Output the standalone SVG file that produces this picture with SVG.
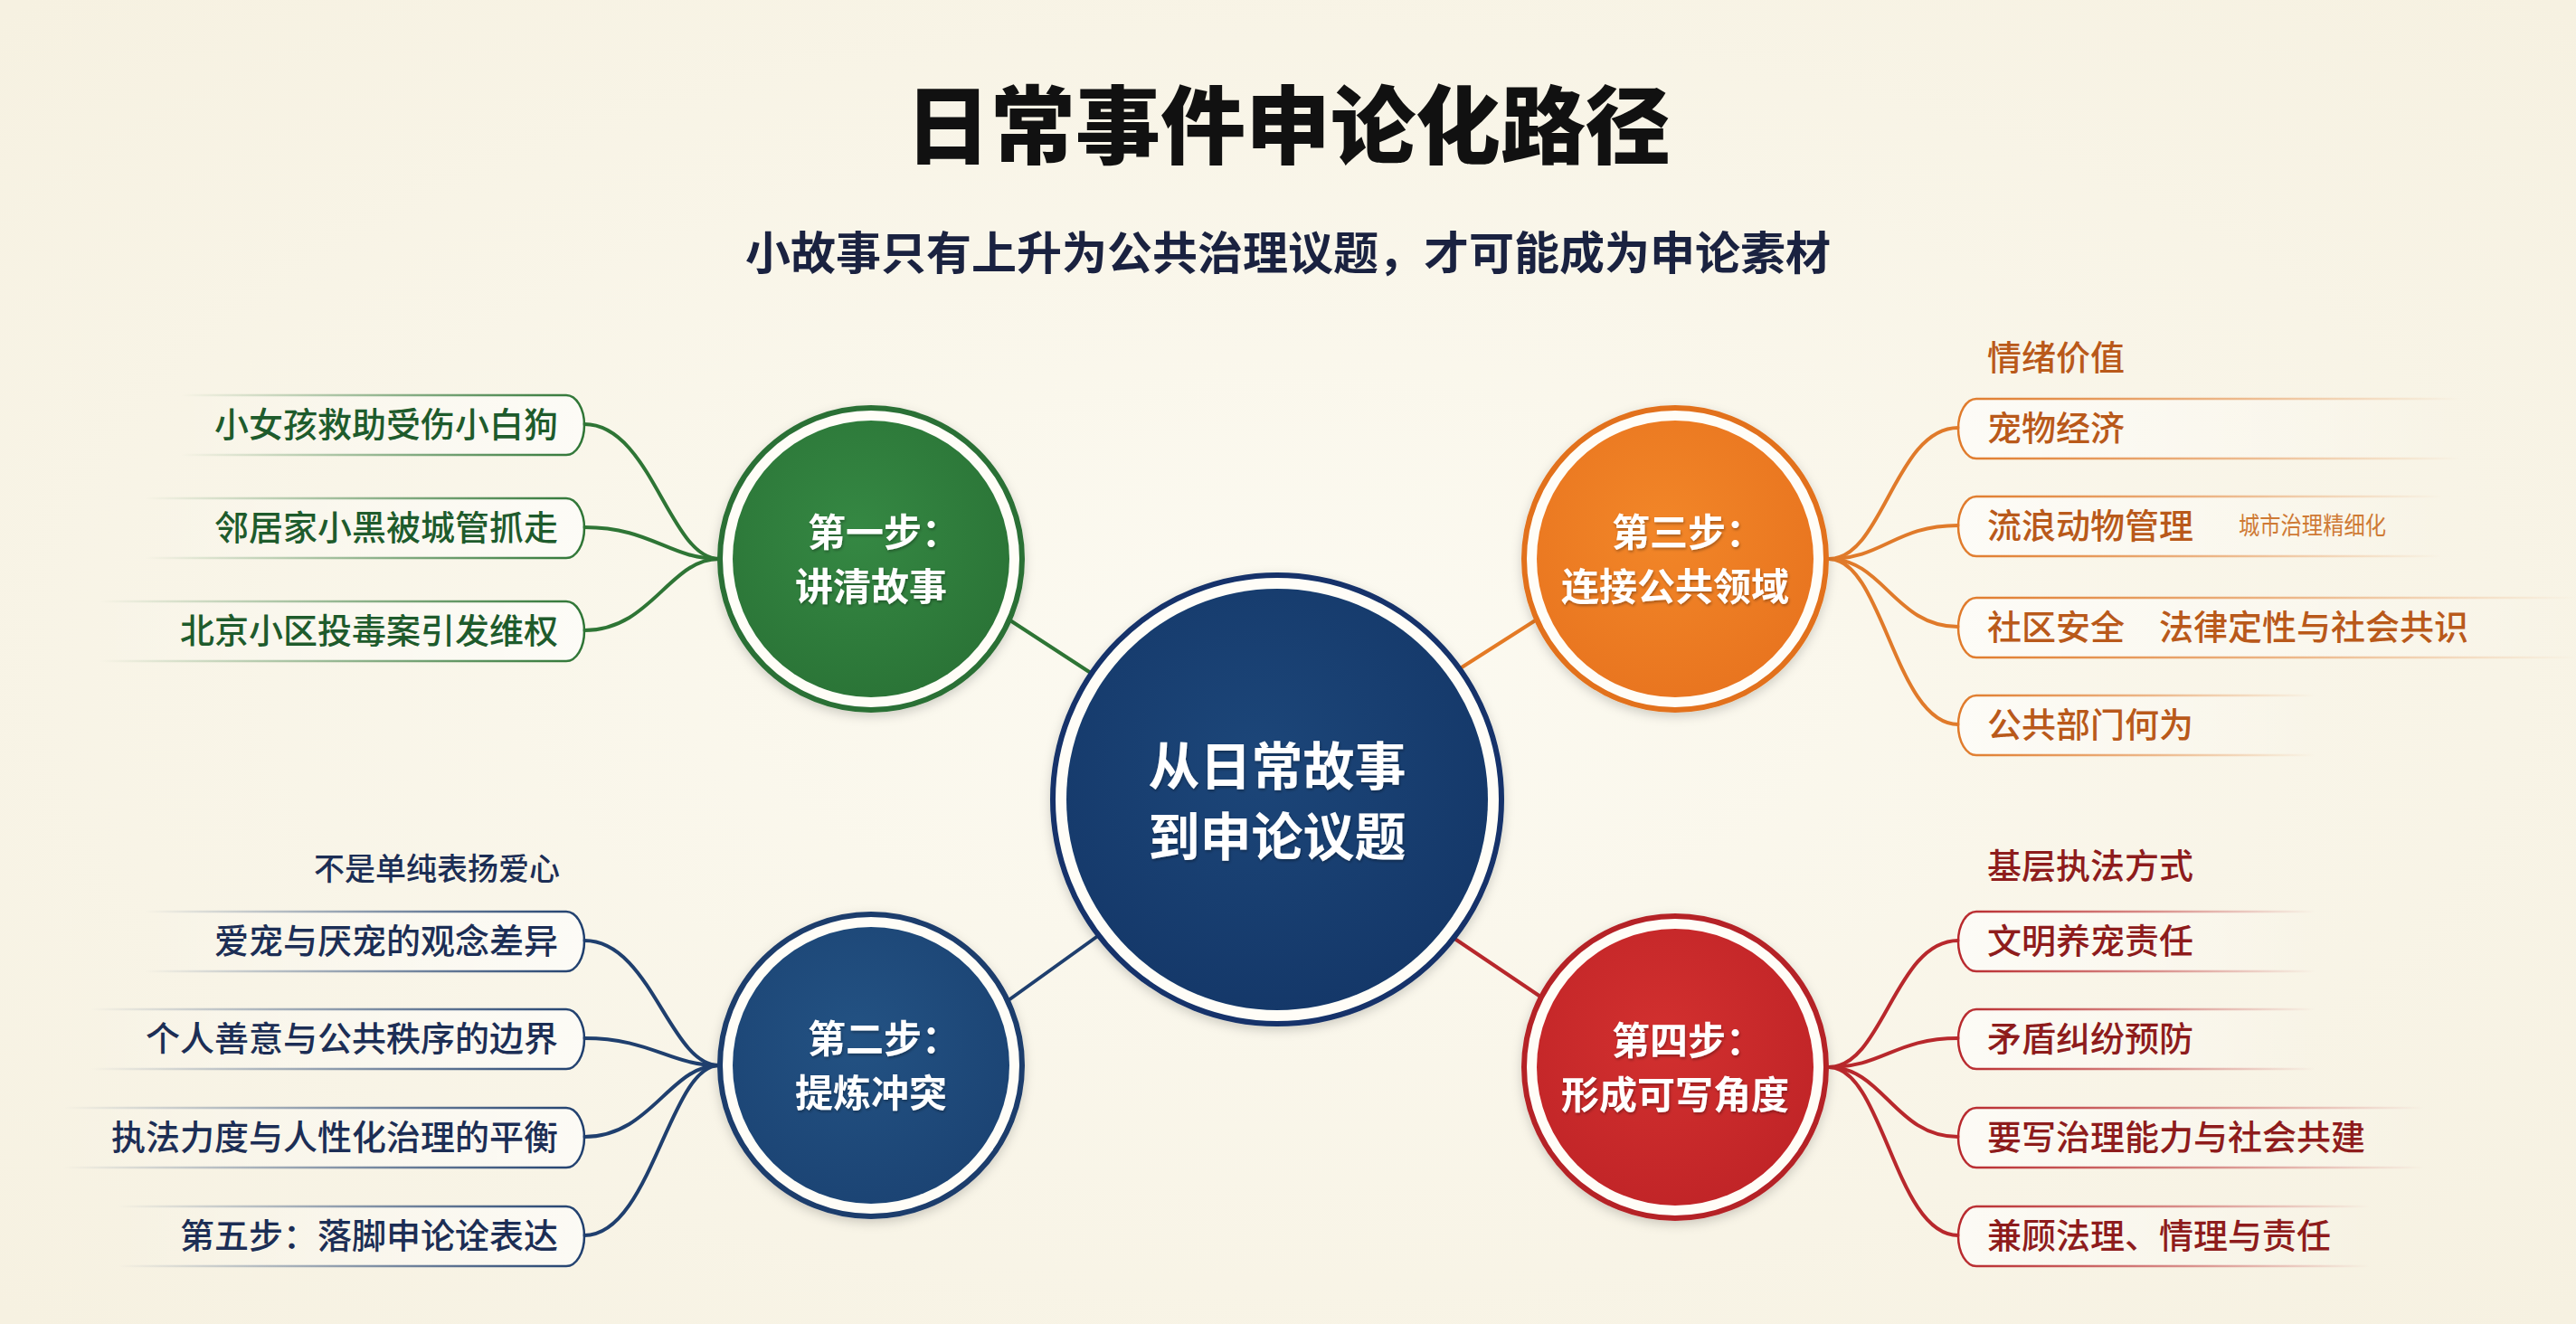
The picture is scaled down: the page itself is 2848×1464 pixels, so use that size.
<svg xmlns="http://www.w3.org/2000/svg" width="2848" height="1464" viewBox="0 0 2848 1464">
<defs>
<radialGradient id="bg" cx="50%" cy="50%" r="70%">
<stop offset="0" stop-color="#fcfaf1"/>
<stop offset="1" stop-color="#f6f1e1"/>
</radialGradient>
<radialGradient id="fNavy" cx="45%" cy="40%" r="65%"><stop offset="0" stop-color="#1c4679"/><stop offset="1" stop-color="#143768"/></radialGradient>
<radialGradient id="fGreen" cx="45%" cy="40%" r="65%"><stop offset="0" stop-color="#358843"/><stop offset="1" stop-color="#2a7336"/></radialGradient>
<radialGradient id="fBlue" cx="45%" cy="40%" r="65%"><stop offset="0" stop-color="#235283"/><stop offset="1" stop-color="#1b4373"/></radialGradient>
<radialGradient id="fOrange" cx="45%" cy="40%" r="65%"><stop offset="0" stop-color="#f28628"/><stop offset="1" stop-color="#e8741f"/></radialGradient>
<radialGradient id="fRed" cx="45%" cy="40%" r="65%"><stop offset="0" stop-color="#d2302f"/><stop offset="1" stop-color="#c02427"/></radialGradient>
<linearGradient id="pGreen" x1="0" y1="0" x2="1" y2="0"><stop offset="0" stop-color="#2e7535" stop-opacity="0"/><stop offset="0.45" stop-color="#2e7535" stop-opacity="0.45"/><stop offset="1" stop-color="#2e7535" stop-opacity="1"/></linearGradient>
<linearGradient id="pBlue" x1="0" y1="0" x2="1" y2="0"><stop offset="0" stop-color="#1f3f6e" stop-opacity="0"/><stop offset="0.45" stop-color="#1f3f6e" stop-opacity="0.45"/><stop offset="1" stop-color="#1f3f6e" stop-opacity="1"/></linearGradient>
<linearGradient id="pOrange" x1="1" y1="0" x2="0" y2="0"><stop offset="0" stop-color="#e07a2a" stop-opacity="0"/><stop offset="0.45" stop-color="#e07a2a" stop-opacity="0.5"/><stop offset="1" stop-color="#e07a2a" stop-opacity="1"/></linearGradient>
<linearGradient id="pRed" x1="1" y1="0" x2="0" y2="0"><stop offset="0" stop-color="#b8282c" stop-opacity="0"/><stop offset="0.45" stop-color="#b8282c" stop-opacity="0.5"/><stop offset="1" stop-color="#b8282c" stop-opacity="1"/></linearGradient>
<linearGradient id="pfL" x1="0" y1="0" x2="1" y2="0"><stop offset="0" stop-color="#ffffff" stop-opacity="0"/><stop offset="1" stop-color="#ffffff" stop-opacity="0.6"/></linearGradient>
<linearGradient id="pfR" x1="1" y1="0" x2="0" y2="0"><stop offset="0" stop-color="#ffffff" stop-opacity="0"/><stop offset="1" stop-color="#ffffff" stop-opacity="0.6"/></linearGradient>
<filter id="sh" x="-20%" y="-20%" width="140%" height="140%"><feDropShadow dx="0" dy="4" stdDeviation="6" flood-color="#000" flood-opacity="0.18"/></filter>
<filter id="tsh" x="-10%" y="-30%" width="120%" height="160%"><feDropShadow dx="1" dy="2" stdDeviation="1.5" flood-color="#000" flood-opacity="0.3"/></filter>
</defs>
<style>
text{font-family:"Noto Sans CJK SC","Noto Sans",sans-serif;}
.title{font-size:94px;font-weight:900;fill:#111111;}
.sub{font-size:50px;font-weight:700;fill:#1a2240;}
.lbl{font-size:38px;font-weight:500;}
.lg{fill:#1e5b2c;} .lb{fill:#1c2e55;} .lo{fill:#b9591a;} .lr{fill:#8e1c1c;}
.step{font-size:42px;font-weight:700;fill:#ffffff;text-anchor:middle;}
.ctr{font-size:57px;font-weight:700;fill:#ffffff;text-anchor:middle;}
.note{font-size:34px;font-weight:500;}
.end{text-anchor:end;}
.pill{fill:none;stroke-width:2.5;}
.cn{fill:none;stroke-width:4;stroke-linecap:round;}
.gap{fill:#fffdf7;stroke-width:6;}
</style>
<rect x="0" y="0" width="2848" height="1464" fill="url(#bg)"/>

<g id="title">
<text class="title" x="1424" y="174" text-anchor="middle">日常事件申论化路径</text>
<text class="sub" x="1424" y="298" text-anchor="middle">小故事只有上升为公共治理议题，才可能成为申论素材</text>
</g>

<g id="connectors">
<line class="cn" x1="1100" y1="675" x2="1215" y2="750" stroke="#2e7535"/>
<line class="cn" x1="1605" y1="745" x2="1710" y2="678" stroke="#e47a25"/>
<line class="cn" x1="1222" y1="1029" x2="1108" y2="1111" stroke="#1f3f6e"/>
<line class="cn" x1="1598" y1="1031" x2="1712" y2="1108" stroke="#b8282c"/>
<g stroke="#2e7535">
<path class="cn" d="M795 618 C740 618 720 469 646 469"/>
<path class="cn" d="M795 618 C740 618 720 583 646 583"/>
<path class="cn" d="M795 618 C740 618 720 697 646 697"/>
</g>
<g stroke="#1f3f6e">
<path class="cn" d="M795 1178 C740 1178 720 1040 646 1040"/>
<path class="cn" d="M795 1178 C740 1178 720 1148 646 1148"/>
<path class="cn" d="M795 1178 C740 1178 720 1257 646 1257"/>
<path class="cn" d="M795 1178 C740 1178 720 1366 646 1366"/>
</g>
<g stroke="#e07a2a">
<path class="cn" d="M2022 618 C2082 618 2095 473 2165 473"/>
<path class="cn" d="M2022 618 C2082 618 2095 581 2165 581"/>
<path class="cn" d="M2022 618 C2082 618 2095 693 2165 693"/>
<path class="cn" d="M2022 618 C2082 618 2095 801 2165 801"/>
</g>
<g stroke="#b8282c">
<path class="cn" d="M2022 1180 C2082 1180 2095 1040 2165 1040"/>
<path class="cn" d="M2022 1180 C2082 1180 2095 1148 2165 1148"/>
<path class="cn" d="M2022 1180 C2082 1180 2095 1257 2165 1257"/>
<path class="cn" d="M2022 1180 C2082 1180 2095 1366 2165 1366"/>
</g>
</g>

<g id="center">
<circle cx="1412" cy="884" r="248" class="gap" stroke="#13336a" filter="url(#sh)"/>
<circle cx="1412" cy="884" r="233" fill="url(#fNavy)"/>
<text class="ctr" x="1412" y="868" filter="url(#tsh)">从日常故事</text>
<text class="ctr" x="1412" y="946" filter="url(#tsh)">到申论议题</text>
</g>

<g id="step1">
<circle cx="963" cy="618" r="167" class="gap" stroke="#2b7036" filter="url(#sh)"/>
<circle cx="963" cy="618" r="153" fill="url(#fGreen)"/>
<text class="step" x="977" y="604" filter="url(#tsh)">第一步：</text>
<text class="step" x="963" y="664" filter="url(#tsh)">讲清故事</text>
</g>

<g id="step2">
<circle cx="963" cy="1178" r="167" class="gap" stroke="#1c3c6c" filter="url(#sh)"/>
<circle cx="963" cy="1178" r="153" fill="url(#fBlue)"/>
<text class="step" x="977" y="1164" filter="url(#tsh)">第二步：</text>
<text class="step" x="963" y="1224" filter="url(#tsh)">提炼冲突</text>
</g>

<g id="step3">
<circle cx="1852" cy="618" r="167" class="gap" stroke="#e2711c" filter="url(#sh)"/>
<circle cx="1852" cy="618" r="153" fill="url(#fOrange)"/>
<text class="step" x="1866" y="604" filter="url(#tsh)">第三步：</text>
<text class="step" x="1852" y="664" filter="url(#tsh)">连接公共领域</text>
</g>

<g id="step4">
<circle cx="1852" cy="1180" r="167" class="gap" stroke="#b52228" filter="url(#sh)"/>
<circle cx="1852" cy="1180" r="153" fill="url(#fRed)"/>
<text class="step" x="1866" y="1166" filter="url(#tsh)">第四步：</text>
<text class="step" x="1852" y="1226" filter="url(#tsh)">形成可写角度</text>
</g>

<g id="s1-items">
<g id="s1a"><path d="M200 437 H626 A20 33 0 0 1 626 503 H200 Z" fill="url(#pfL)"/><path class="pill" d="M200 437 H626 A20 33 0 0 1 626 503 H200" stroke="url(#pGreen)"/><text class="lbl lg end" x="617" y="483">小女孩救助受伤小白狗</text></g>
<g id="s1b"><path d="M160 551 H626 A20 33 0 0 1 626 617 H160 Z" fill="url(#pfL)"/><path class="pill" d="M160 551 H626 A20 33 0 0 1 626 617 H160" stroke="url(#pGreen)"/><text class="lbl lg end" x="617" y="597">邻居家小黑被城管抓走</text></g>
<g id="s1c"><path d="M110 665 H626 A20 33 0 0 1 626 731 H110 Z" fill="url(#pfL)"/><path class="pill" d="M110 665 H626 A20 33 0 0 1 626 731 H110" stroke="url(#pGreen)"/><text class="lbl lg end" x="617" y="711">北京小区投毒案引发维权</text></g>
</g>

<g id="s2-items">
<text class="note lb end" x="619" y="973">不是单纯表扬爱心</text>
<g id="s2a"><path d="M160 1008 H626 A20 33 0 0 1 626 1074 H160 Z" fill="url(#pfL)"/><path class="pill" d="M160 1008 H626 A20 33 0 0 1 626 1074 H160" stroke="url(#pBlue)"/><text class="lbl lb end" x="617" y="1054">爱宠与厌宠的观念差异</text></g>
<g id="s2b"><path d="M100 1116 H626 A20 33 0 0 1 626 1182 H100 Z" fill="url(#pfL)"/><path class="pill" d="M100 1116 H626 A20 33 0 0 1 626 1182 H100" stroke="url(#pBlue)"/><text class="lbl lb end" x="617" y="1162">个人善意与公共秩序的边界</text></g>
<g id="s2c"><path d="M70 1225 H626 A20 33 0 0 1 626 1291 H70 Z" fill="url(#pfL)"/><path class="pill" d="M70 1225 H626 A20 33 0 0 1 626 1291 H70" stroke="url(#pBlue)"/><text class="lbl lb end" x="617" y="1271">执法力度与人性化治理的平衡</text></g>
<g id="s2d"><path d="M130 1334 H626 A20 33 0 0 1 626 1400 H130 Z" fill="url(#pfL)"/><path class="pill" d="M130 1334 H626 A20 33 0 0 1 626 1400 H130" stroke="url(#pBlue)"/><text class="lbl lb end" x="617" y="1380">第五步：落脚申论诠表达</text></g>
</g>

<g id="s3-items">
<text class="lbl lo" x="2197" y="409">情绪价值</text>
<g id="s3a"><path d="M2720 441 H2185 A20 33 0 0 0 2185 507 H2720 Z" fill="url(#pfR)"/><path class="pill" d="M2720 441 H2185 A20 33 0 0 0 2185 507 H2720" stroke="url(#pOrange)"/><text class="lbl lo" x="2197" y="487">宠物经济</text></g>
<g id="s3b"><path d="M2700 549 H2185 A20 33 0 0 0 2185 615 H2700 Z" fill="url(#pfR)"/><path class="pill" d="M2700 549 H2185 A20 33 0 0 0 2185 615 H2700" stroke="url(#pOrange)"/><text class="lbl lo" x="2197" y="595">流浪动物管理</text><text x="2475" y="591" font-size="27" fill="#cf7a35" textLength="163" lengthAdjust="spacingAndGlyphs">城市治理精细化</text></g>
<g id="s3c"><path d="M2848 661 H2185 A20 33 0 0 0 2185 727 H2848 Z" fill="url(#pfR)"/><path class="pill" d="M2848 661 H2185 A20 33 0 0 0 2185 727 H2848" stroke="url(#pOrange)"/><text class="lbl lo" x="2197" y="707">社区安全　法律定性与社会共识</text></g>
<g id="s3d"><path d="M2560 769 H2185 A20 33 0 0 0 2185 835 H2560 Z" fill="url(#pfR)"/><path class="pill" d="M2560 769 H2185 A20 33 0 0 0 2185 835 H2560" stroke="url(#pOrange)"/><text class="lbl lo" x="2197" y="815">公共部门何为</text></g>
</g>

<g id="s4-items">
<text class="lbl lr" x="2197" y="971">基层执法方式</text>
<g id="s4a"><path d="M2560 1008 H2185 A20 33 0 0 0 2185 1074 H2560 Z" fill="url(#pfR)"/><path class="pill" d="M2560 1008 H2185 A20 33 0 0 0 2185 1074 H2560" stroke="url(#pRed)"/><text class="lbl lr" x="2197" y="1054">文明养宠责任</text></g>
<g id="s4b"><path d="M2560 1116 H2185 A20 33 0 0 0 2185 1182 H2560 Z" fill="url(#pfR)"/><path class="pill" d="M2560 1116 H2185 A20 33 0 0 0 2185 1182 H2560" stroke="url(#pRed)"/><text class="lbl lr" x="2197" y="1162">矛盾纠纷预防</text></g>
<g id="s4c"><path d="M2680 1225 H2185 A20 33 0 0 0 2185 1291 H2680 Z" fill="url(#pfR)"/><path class="pill" d="M2680 1225 H2185 A20 33 0 0 0 2185 1291 H2680" stroke="url(#pRed)"/><text class="lbl lr" x="2197" y="1271">要写治理能力与社会共建</text></g>
<g id="s4d"><path d="M2620 1334 H2185 A20 33 0 0 0 2185 1400 H2620 Z" fill="url(#pfR)"/><path class="pill" d="M2620 1334 H2185 A20 33 0 0 0 2185 1400 H2620" stroke="url(#pRed)"/><text class="lbl lr" x="2197" y="1380">兼顾法理、情理与责任</text></g>
</g>
</svg>
